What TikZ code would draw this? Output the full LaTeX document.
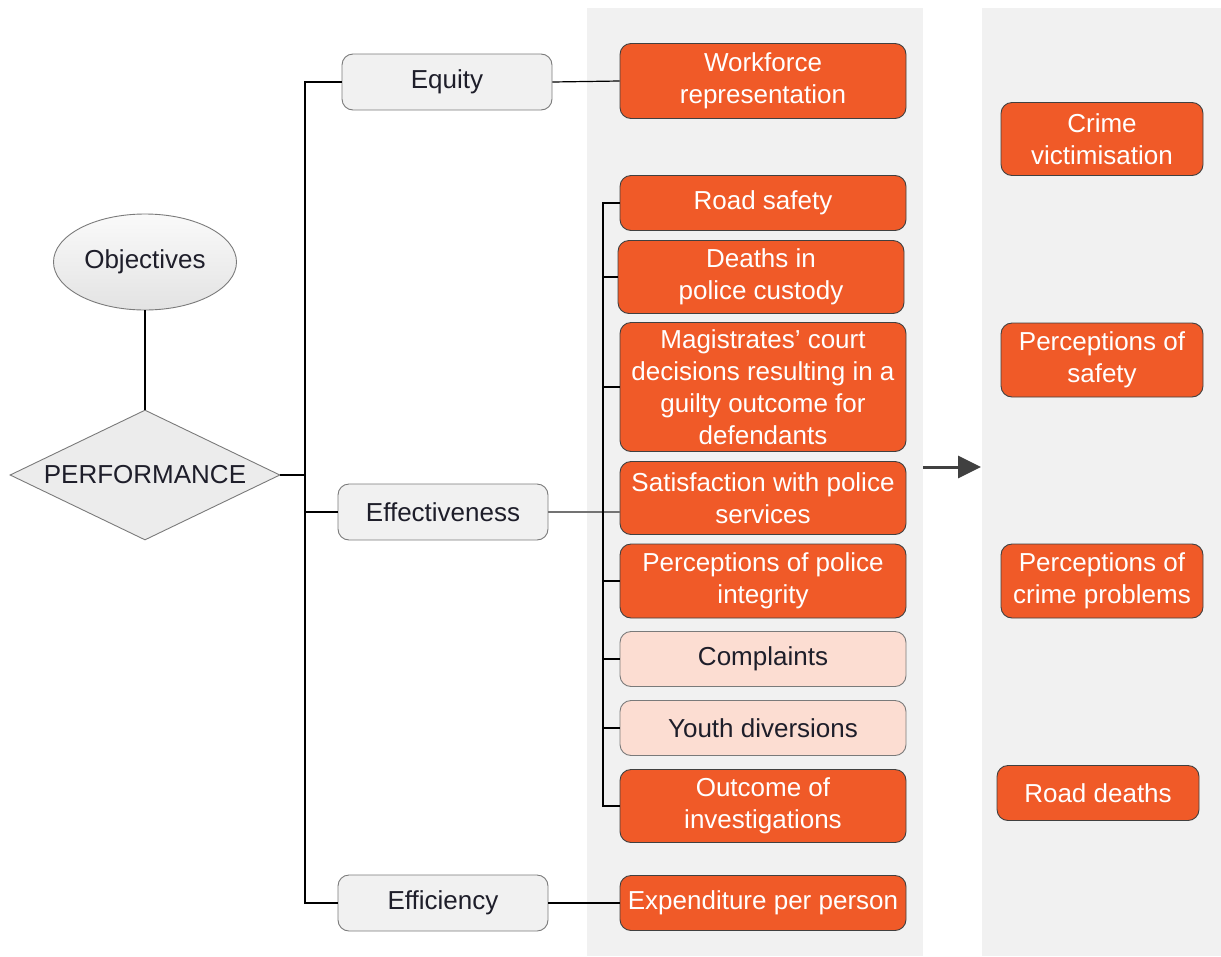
\documentclass[tikz,border=0pt]{standalone}
\usepackage{fontspec}
\setmainfont{Liberation Sans}
\usetikzlibrary{shapes.geometric,arrows.meta}
\definecolor{kpiorange}{HTML}{F05A28}
\definecolor{kpisoft}{HTML}{FCDDD2}
\definecolor{panelgrey}{HTML}{F1F1F1}
\definecolor{boxgrey}{HTML}{F1F1F1}
\definecolor{edgegrey}{HTML}{7A7A7A}
\definecolor{ink}{HTML}{1E1E2A}
\tikzset{
  base/.style={rounded corners=11pt, draw=edgegrey, line width=0.9pt, align=center,
    inner sep=0pt, font=\fontsize{26}{32}\selectfont},
  dim/.style={base, fill=boxgrey, text=ink, minimum width=210pt, minimum height=56pt},
  kpi/.style={base, fill=kpiorange, draw=black!75, text=white, minimum width=286pt,
    minimum height=55pt},
  soft/.style={base, fill=kpisoft, text=ink, minimum width=286pt, minimum height=55pt},
  outer/.style={kpi, minimum width=202pt},
  link/.style={draw=black, line width=1.2pt},
}
\begin{document}
\begin{tikzpicture}[x=1pt,y=-1pt]
  \useasboundingbox (0,0) rectangle (1221,956);
  % shaded columns
  \fill[panelgrey] (587,8) rectangle (923,956);
  \fill[panelgrey] (982,8) rectangle (1221,956);

  \node[ellipse, draw=edgegrey, line width=0.9pt, top color=gray!4, bottom color=gray!22,
    minimum width=183pt, minimum height=96pt, inner sep=0pt, text=ink,
    font=\fontsize{26}{32}\selectfont] (obj) at (145,262) {Objectives};
  \node[diamond, aspect=2.08, draw=edgegrey, line width=0.9pt, fill=gray!15,
    minimum width=270pt, minimum height=130pt, inner sep=0pt, text=ink,
    font=\fontsize{26}{32}\selectfont] (perf) at (145,475) {PERFORMANCE};

  \node[dim] (eq) at (447,82) {Equity};
  \node[dim] (eff) at (443,512) {Effectiveness};
  \node[dim] (effi) at (443,903) {Efficiency};

  \node[kpi, minimum height=75pt] (work) at (763,81) {Workforce\\representation};
  \node[kpi] (road) at (763,203) {Road safety};
  \node[kpi, minimum height=73pt] (death) at (761,277) {Deaths in\\police custody};
  \node[kpi, minimum height=129pt] (court) at (763,387)
    {Magistrates’ court\\decisions resulting in a\\guilty outcome for\\defendants};
  \node[kpi, minimum height=73pt] (satis) at (763,498) {Satisfaction with police\\services};
  \node[kpi, minimum height=74pt] (integ) at (763,581) {Perceptions of police\\integrity};
  \node[soft] (compl) at (763,659) {Complaints};
  \node[soft] (youth) at (763,728) {Youth diversions};
  \node[kpi, minimum height=73pt] (outc) at (763,806) {Outcome of\\investigations};
  \node[kpi] (exp) at (763,903) {Expenditure per person};

  \node[outer, minimum height=73pt] (vict) at (1102,139) {Crime\\victimisation};
  \node[outer, minimum height=74pt] (psafe) at (1102,360) {Perceptions of\\safety};
  \node[outer, minimum height=74pt] (pcrime) at (1102,581) {Perceptions of\\crime problems};
  \node[outer] (rdeath) at (1098,793) {Road deaths};

  \coordinate (trunk) at (305,475);
  \coordinate (sub) at (603,510);
  \coordinate (from) at (923,467);
  \coordinate (to) at (981,467);

  \begin{scope}[link]
    \draw (obj) -- (perf);
    \draw (perf.east) -- (trunk);
    \draw (eq.west) -| (trunk);
    \draw (effi.west) -| (trunk);
    \draw (eff.west) -- (eff.west -| trunk);
    \draw (eq.east) -- (work.west);
    \draw (effi.east) -- (exp.west);
    \draw[draw=black!55] (eff.east) -- (eff.east -| satis.west);
    \draw (road.west) -| (sub);
    \draw (outc.west) -| (sub);
    \draw (death.west) -- (death.west -| sub);
    \draw (court.west) -- (court.west -| sub);
    \draw (integ.west) -- (integ.west -| sub);
    \draw (compl.west) -- (compl.west -| sub);
    \draw (youth.west) -- (youth.west -| sub);
  \end{scope}
  \draw[draw=black!75, line width=3pt, -{Triangle[length=23pt,width=22pt]}] (from) -- (to);
\end{tikzpicture}
\end{document}
